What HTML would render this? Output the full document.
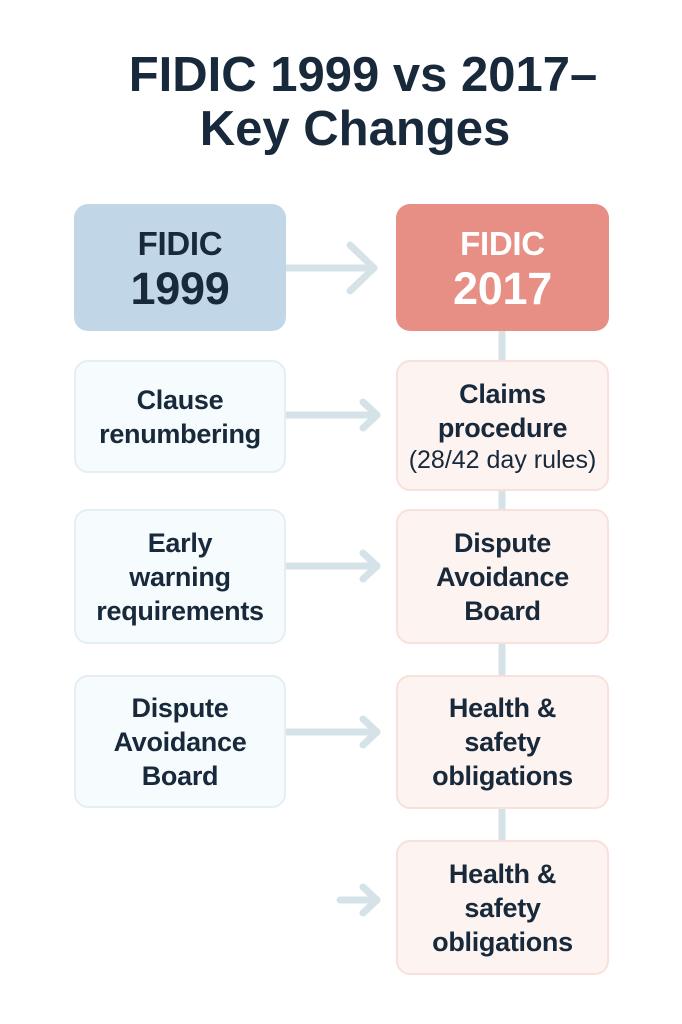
<!DOCTYPE html>
<html><head><style>
body{margin:0;width:682px;height:1024px;background:#fff;position:relative;font-family:"Liberation Sans",sans-serif;color:#17293a;overflow:hidden}
.t{position:absolute;left:0;width:726px;text-align:center;font-weight:bold;font-size:49px;line-height:54px}
.b{position:absolute;box-sizing:border-box;border-radius:14px;display:flex;flex-direction:column;align-items:center;justify-content:center;text-align:center;font-size:27px;line-height:34px;font-weight:bold;letter-spacing:-0.3px}
.l{left:74px;width:212px;background:#f6fbfd;border:2px solid #e4eef3}
.r{left:396px;width:213px;background:#fdf3f0;border:2px solid #f8e1da}
svg{position:absolute;left:0;top:0}
</style></head><body>
<div class="t" style="top:48px">FIDIC 1999 vs 2017–</div>
<div class="t" style="top:102px;width:710px">Key Changes</div>
<svg width="682" height="1024">
<g stroke="#d5e3e8" stroke-width="7" fill="none" stroke-linecap="round" stroke-linejoin="round">
<line x1="502" y1="330" x2="502" y2="840"/>
<line x1="287" y1="268" x2="374" y2="268"/><polyline points="350,245 374,268 350,291"/>
<line x1="287" y1="415" x2="377" y2="415"/><polyline points="363,402 377,415 363,428"/>
<line x1="287" y1="566" x2="377" y2="566"/><polyline points="363,553 377,566 363,579"/>
<line x1="287" y1="732" x2="377" y2="732"/><polyline points="363,719 377,732 363,745"/>
<line x1="340" y1="900" x2="377" y2="900"/><polyline points="363,887 377,900 363,913"/>
</g></svg>
<div class="b" style="left:74px;top:204px;width:212px;height:127px;background:#c1d7e8;font-weight:bold"><div style="font-size:33px;line-height:42px">FIDIC</div><div style="font-size:45px;line-height:48px">1999</div></div>
<div class="b" style="left:396px;top:204px;width:213px;height:127px;background:#e78f85;color:#fff;font-weight:bold"><div style="font-size:33px;line-height:42px">FIDIC</div><div style="font-size:45px;line-height:48px">2017</div></div>
<div class="b l" style="top:360px;height:113px">Clause<br>renumbering</div>
<div class="b r" style="top:360px;height:131px">Claims<br>procedure<br><span style="font-size:25px;font-weight:normal;line-height:30px;letter-spacing:0">(28/42 day rules)</span></div>
<div class="b l" style="top:509px;height:135px">Early<br>warning<br>requirements</div>
<div class="b r" style="top:509px;height:135px">Dispute<br>Avoidance<br>Board</div>
<div class="b l" style="top:675px;height:133px">Dispute<br>Avoidance<br>Board</div>
<div class="b r" style="top:675px;height:134px">Health &amp;<br>safety<br>obligations</div>
<div class="b r" style="top:840px;height:135px">Health &amp;<br>safety<br>obligations</div>
</body></html>
